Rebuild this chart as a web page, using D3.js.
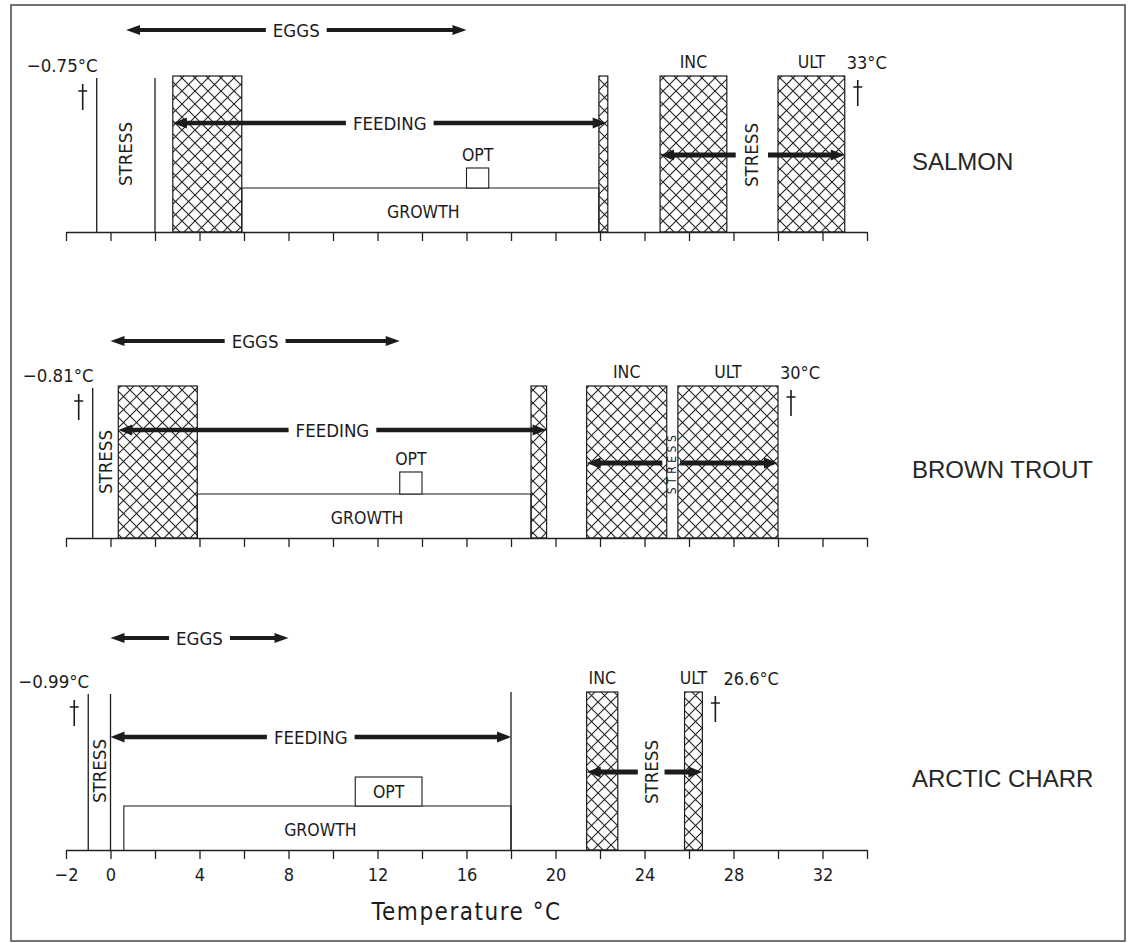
<!DOCTYPE html>
<html lang="en">
<head>
<meta charset="utf-8">
<title>Temperature tolerance of salmon, brown trout and arctic charr</title>
<script src="https://cdn.jsdelivr.net/npm/d3@7/dist/d3.min.js"></script>
<style>
    body { margin: 0; background: #fff; }
    svg text { fill: #1c1c1c; }
    .lbl {
        font-family: 'DejaVu Sans Condensed', 'DejaVu Sans', sans-serif;
        font-stretch: condensed;
    }
    .species {
        font-family: 'Liberation Sans', Arial, sans-serif;
        font-size: 24px;
        fill: #262626;
    }
    .axis path, .axis line { stroke: #222; stroke-width: 1.3px; }
    .axis text {
        font-family: 'DejaVu Sans Condensed', 'DejaVu Sans', sans-serif;
        font-stretch: condensed;
        font-size: 18px;
        fill: #1c1c1c;
    }
</style>
</head>
<body>
<script>
// ---- data (temperatures in degrees C) ----
var species = ["SALMON", "BROWN TROUT", "ARCTIC CHARR"];
var lowLethalLabel = ["\u22120.75\u00B0C", "\u22120.81\u00B0C", "\u22120.99\u00B0C"];
var highLethalLabel = ["33\u00B0C", "30\u00B0C", "26.6\u00B0C"];
var lowLethalLine = [-0.62, -0.8, -1.0];
var coldStressEnd = [2, 0.35, 0];          // end of the cold STRESS zone
var coldStressLine = [true, false, true];  // drawn as a separate line?
var eggs = [[0.7, 16], [0, 13], [0, 8]];
var feeding = [[2.8, 22.3], [0.35, 19.6], [0, 18]];
var lowHatch = [[2.8, 5.9], [0.35, 3.9], null];
var feedHatch = [[21.95, 22.35], [18.9, 19.6], null];
var growth = [[5.9, 21.95], [3.9, 18.9], [0.6, 18]];
var opt = [[16, 17], [13, 14], [11, 14]];
var inc = [[24.7, 27.7], [21.4, 25], [21.4, 22.8]];
var ult = [[30, 33], [25.5, 30], [25.8, 26.6]];
var hotStressGap = [[28.1, 29.55], [24.8, 25.6], [23.7, 24.9]];
var tickValues = [-2, 0, 2, 4, 6, 8, 10, 12, 14, 16, 18, 20, 22, 24, 26, 28, 30, 32, 34];
var tickLabels = [-2, 0, 4, 8, 12, 16, 20, 24, 28, 32];

// ---- layout ----
var W = 1131, H = 943;
var axisY = [232, 538, 850];
var barH = [156, 152, 158];
var eggsDy = [202, 197, 212];
var feedDy = [109, 108, 113];
var growthDy = 44;
var optDy = [64, 66, 73];
var stressDy = [77, 75, 78];

var svg = d3.select("body").append("svg")
    .attr("width", W)
    .attr("height", H);

svg.append("rect")
    .attr("x", 11).attr("y", 5)
    .attr("width", 1114).attr("height", 936)
    .attr("fill", "none")
    .attr("stroke", "#444")
    .attr("stroke-width", 1.5);

var defs = svg.append("defs");
var pat = defs.append("pattern")
    .attr("id", "hatch")
    .attr("patternUnits", "userSpaceOnUse")
    .attr("width", 13).attr("height", 13);
pat.append("rect").attr("width", 13).attr("height", 13).attr("fill", "#fff");
pat.append("path")
    .attr("d", "M-1,-1L14,14M14,-1L-1,14")
    .attr("stroke", "#222")
    .attr("stroke-width", 1.1);

var x = d3.scaleLinear().domain([-2, 34]).range([66, 867]);
var panelY = d3.scaleOrdinal().domain(species).range(axisY);

function arrowHead(g, xt, y, dir, hw) {
    // dir = -1 pointing left, +1 pointing right
    var len = 14;
    g.append("path")
        .attr("d", "M" + xt + "," + y +
            "L" + (xt - dir * len) + "," + (y - hw) +
            "L" + (xt - dir * len) + "," + (y + hw) + "Z")
        .attr("fill", "#1c1c1c");
}

function segment(g, xa, xb, y, w) {
    g.append("line")
        .attr("x1", xa).attr("x2", xb)
        .attr("y1", y).attr("y2", y)
        .attr("stroke", "#1c1c1c")
        .attr("stroke-width", w);
}

function labelledArrow(g, range, y, text, size, w) {
    var xa = x(range[0]), xb = x(range[1]);
    var cx = (xa + xb) / 2;
    var t = g.append("text")
        .attr("class", "lbl")
        .attr("x", cx).attr("y", y)
        .attr("text-anchor", "middle")
        .attr("dominant-baseline", "central")
        .style("font-size", size + "px")
        .text(text);
    var tw = t.node().getComputedTextLength();
    segment(g, xa + 10, cx - tw / 2 - 7, y, w);
    segment(g, cx + tw / 2 + 7, xb - 10, y, w);
    arrowHead(g, xa, y, -1, w + 1);
    arrowHead(g, xb, y, 1, w + 1);
}

function vText(g, cx, cy, text, size, spacing) {
    g.append("text")
        .attr("class", "lbl")
        .attr("transform", "translate(" + cx + "," + cy + ") rotate(-90)")
        .attr("text-anchor", "middle")
        .attr("dominant-baseline", "central")
        .style("font-size", size + "px")
        .style("letter-spacing", (spacing || 0) + "px")
        .text(text);
}

function hText(g, cx, cy, text, size, anchor) {
    return g.append("text")
        .attr("class", "lbl")
        .attr("x", cx).attr("y", cy)
        .attr("text-anchor", anchor || "middle")
        .attr("dominant-baseline", "central")
        .style("font-size", size + "px")
        .text(text);
}

function dagger(g, cx, top) {
    g.append("path")
        .attr("d", "M" + cx + "," + top + "V" + (top + 26) +
            "M" + (cx - 4.5) + "," + (top + 7) + "H" + (cx + 4.5))
        .attr("stroke", "#1c1c1c")
        .attr("stroke-width", 1.6)
        .attr("fill", "none");
}

function hatchRect(g, range, yTop, yBot) {
    g.append("rect")
        .attr("x", x(range[0]))
        .attr("y", yTop)
        .attr("width", x(range[1]) - x(range[0]))
        .attr("height", yBot - yTop)
        .attr("fill", "url(#hatch)")
        .attr("stroke", "#1c1c1c")
        .attr("stroke-width", 1.2);
}

function vLine(g, t, yTop, yBot) {
    g.append("line")
        .attr("x1", x(t)).attr("x2", x(t))
        .attr("y1", yTop).attr("y2", yBot)
        .attr("stroke", "#1c1c1c")
        .attr("stroke-width", 1.3);
}

species.forEach(function(name, i) {
    var base = panelY(name);
    var top = base - barH[i];
    var g = svg.append("g");

    // hatched zones
    if (lowHatch[i]) hatchRect(g, lowHatch[i], top, base);
    if (feedHatch[i]) hatchRect(g, feedHatch[i], top, base);
    hatchRect(g, inc[i], top, base);
    hatchRect(g, ult[i], top, base);

    // lethal low line and cold stress boundary
    vLine(g, lowLethalLine[i], top + 2, base);
    if (coldStressLine[i]) vLine(g, coldStressEnd[i], top + 2, base);
    if (!feedHatch[i]) vLine(g, feeding[i][1], top, base);

    // growth band and optimum box
    var gy = base - growthDy;
    g.append("path")
        .attr("d", "M" + x(growth[i][0]) + "," + base + "V" + gy +
            "H" + x(growth[i][1]) + "V" + base)
        .attr("fill", "none")
        .attr("stroke", "#1c1c1c")
        .attr("stroke-width", 1.1);
    var oy = base - optDy[i];
    g.append("rect")
        .attr("x", x(opt[i][0])).attr("y", oy)
        .attr("width", x(opt[i][1]) - x(opt[i][0]))
        .attr("height", gy - oy)
        .attr("fill", "#fff")
        .attr("stroke", "#1c1c1c")
        .attr("stroke-width", 1.1);
    var optInside = (x(opt[i][1]) - x(opt[i][0])) > 40;
    hText(g, x((opt[i][0] + opt[i][1]) / 2), optInside ? (oy + gy) / 2 : oy - 13, "OPT", 17.5);
    hText(g, x((growth[i][0] + growth[i][1]) / 2) + 3, base - 20, "GROWTH", 17.5);

    // arrows
    labelledArrow(g, eggs[i], base - eggsDy[i], "EGGS", 18.5, 4);
    labelledArrow(g, feeding[i], base - feedDy[i], "FEEDING", 18.5, 4.5);

    var sy = base - stressDy[i];
    segment(g, x(inc[i][0]) + 10, x(hotStressGap[i][0]), sy, 5);
    arrowHead(g, x(inc[i][0]), sy, -1, 5.5);
    segment(g, x(hotStressGap[i][1]), x(ult[i][1]) - 10, sy, 5);
    arrowHead(g, x(ult[i][1]), sy, 1, 5.5);

    // stress labels
    var hotX = x((hotStressGap[i][0] + hotStressGap[i][1]) / 2);
    if (x(ult[i][0]) - x(inc[i][1]) < 20) {
        vText(g, x((inc[i][1] + ult[i][0]) / 2), sy, "STRESS", 12, 3.5);
    } else {
        vText(g, hotX, sy, "STRESS", 18.5);
    }
    vText(g, x((lowLethalLine[i] + coldStressEnd[i]) / 2), sy - 1, "STRESS", 18.5);

    // INC / ULT labels and lethal temperatures
    var ly = top - 14;
    hText(g, x((inc[i][0] + inc[i][1]) / 2), ly, "INC", 17.5);
    var ultC = x((ult[i][0] + ult[i][1]) / 2);
    hText(g, ultC, ly, "ULT", 17.5);
    hText(g, Math.max(x(ult[i][1]) + 2, ultC + 30), ly, highLethalLabel[i], 18, "start");
    hText(g, x(lowLethalLine[i]) + 1, ly + 3, lowLethalLabel[i], 18.5, "end");
    dagger(g, x(lowLethalLine[i]) - 14, top + 8);
    dagger(g, x(ult[i][1]) + 13, top + 4);

    // species name
    g.append("text")
        .attr("class", "species")
        .attr("x", 912)
        .attr("y", base - stressDy[i] + 6)
        .attr("dominant-baseline", "central")
        .text(name);

    // axis
    var last = i === species.length - 1;
    var axis = d3.axisBottom(x)
        .tickValues(tickValues)
        .tickSize(9)
        .tickSizeOuter(0)
        .tickPadding(9)
        .tickFormat(function(d) {
            return last && tickLabels.indexOf(d) >= 0 ? d3.format("")(d) : "";
        });
    svg.append("g")
        .attr("class", "axis")
        .attr("transform", "translate(0," + base + ")")
        .call(axis);
});

svg.append("text")
    .attr("class", "lbl")
    .attr("x", x(16))
    .attr("y", 912)
    .attr("text-anchor", "middle")
    .attr("dominant-baseline", "central")
    .style("font-size", "24px")
    .style("font-stretch", "normal")
    .style("letter-spacing", "1.5px")
    .text("Temperature \u00B0C");
</script>
</body>
</html>
